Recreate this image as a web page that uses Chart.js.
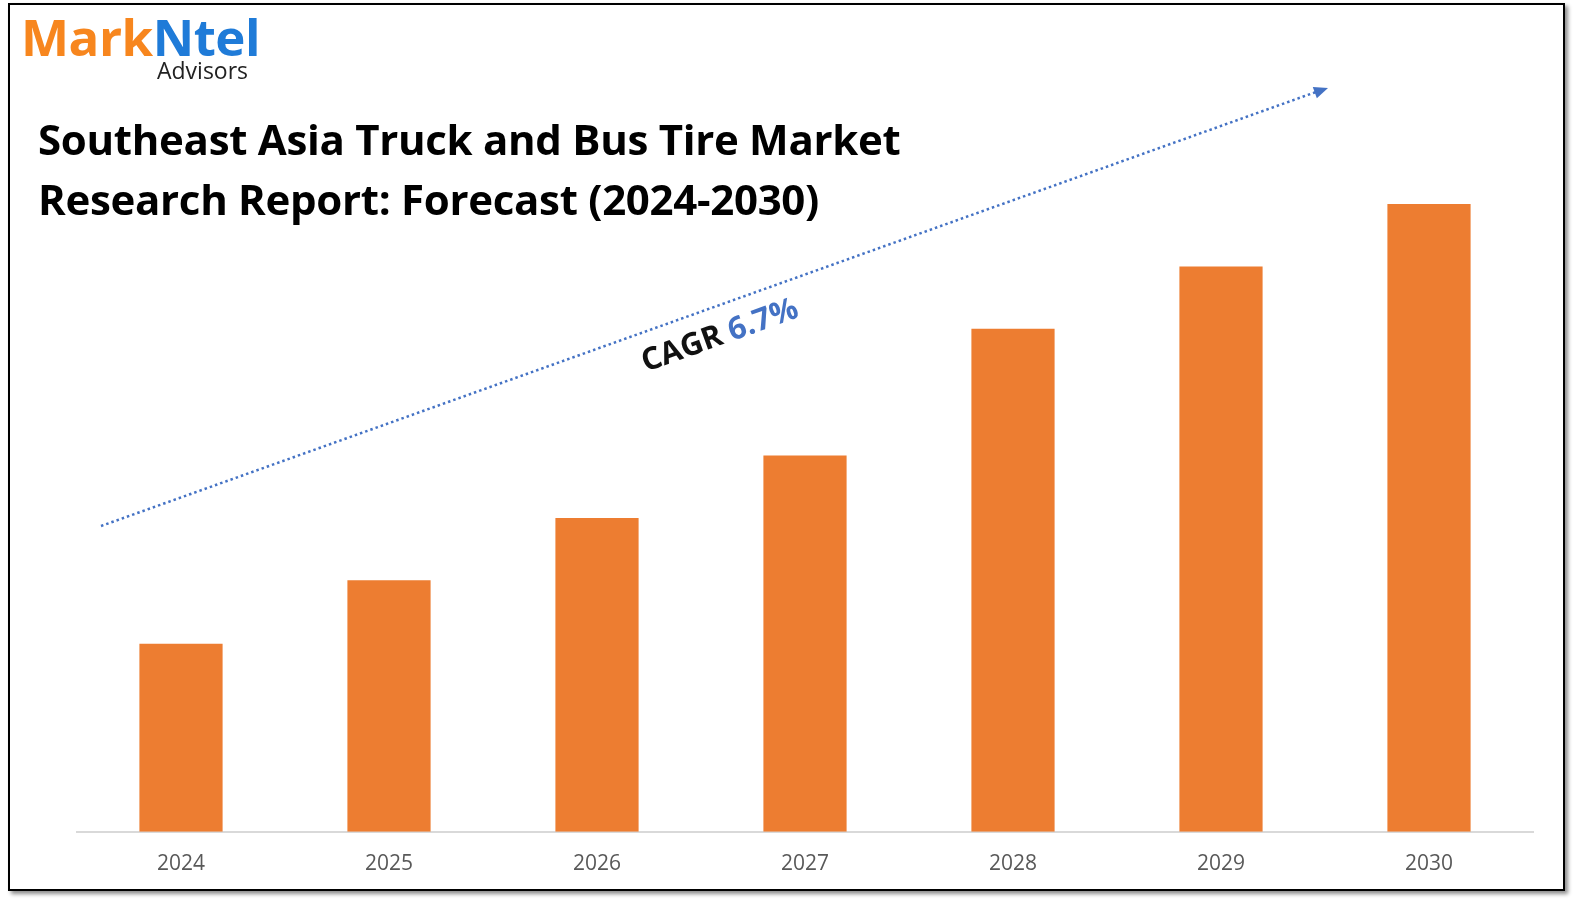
<!DOCTYPE html>
<html><head><meta charset="utf-8">
<script src="https://cdn.jsdelivr.net/npm/chart.js@4/dist/chart.umd.min.js"></script>
<style>
html,body{margin:0;padding:0;background:#fff;width:1575px;height:907px;overflow:hidden;}
#frame{position:absolute;left:8px;top:3px;width:1553px;height:884px;border:2px solid #000;box-shadow:3px 3px 4px rgba(0,0,0,0.45);}
#wrap{position:absolute;left:0;top:0;width:1575px;height:907px;}
.t{position:absolute;font-family:"Open Sans",sans-serif;white-space:nowrap;}
</style></head><body>
<div id="frame"></div>
<div id="wrap"><canvas id="c" width="1575" height="907"></canvas></div>
<div class="t" style="left:21px;top:5px;font-size:51px;font-weight:700;letter-spacing:-0.5px;line-height:62px;"><span style="color:#f7861e">Mark</span><span style="color:#1f7bd8">Ntel</span></div>
<div class="t" style="left:157px;top:55px;font-size:23px;color:#222;line-height:30px;">Advisors</div>
<div class="t" style="left:38px;top:109px;font-size:42px;font-weight:700;color:#000;line-height:60px;letter-spacing:-0.3px;">Southeast Asia Truck and Bus Tire Market<br>Research Report: Forecast (2024-2030)</div>
<script>
const years=["2024","2025","2026","2027","2028","2029","2030"];
const values=[187,250,312,374,500,562,624];
const cagrText="CAGR ";
const cagrValue="6.7%";
const overlay={id:'ov',afterDraw(ch){
 const c=ch.ctx;c.save();
 c.strokeStyle='#4472c4';c.lineWidth=2.5;c.setLineDash([2.5,3]);
 c.beginPath();c.moveTo(101,526);c.lineTo(1316,92);c.stroke();c.setLineDash([]);
 c.fillStyle='#4472c4';c.beginPath();
 const a=Math.atan2(88-526,1328-101);
 c.translate(1328,88);c.rotate(a);c.moveTo(0,0);c.lineTo(-14,-6);c.lineTo(-14,6);c.closePath();c.fill();
 c.setTransform(1,0,0,1,0,0);
 c.translate(720,336);c.rotate(-0.345);
 c.font='700 31px "Open Sans"';c.textBaseline='middle';
 const w1=c.measureText(cagrText).width;const w2=c.measureText(cagrValue).width;
 let x=-(w1+w2)/2;c.fillStyle='#111';c.fillText(cagrText,x,0);c.fillStyle='#4472c4';c.fillText(cagrValue,x+w1,0);
 c.restore();}};
new Chart(document.getElementById('c'),{type:'bar',
 data:{labels:years,datasets:[{data:values,backgroundColor:'#ed7d31',barPercentage:0.4,categoryPercentage:1}]},
 options:{responsive:false,animation:false,layout:{padding:{left:77,right:42,top:204,bottom:18}},
  plugins:{legend:{display:false},tooltip:{enabled:false}},
  scales:{x:{grid:{display:false},border:{color:'#d9d9d9',width:2},ticks:{color:'#595959',padding:12,font:{size:21,family:'"Open Sans"'}}},
   y:{display:false,min:0,max:624}}}, plugins:[overlay]});
</script></body></html>
